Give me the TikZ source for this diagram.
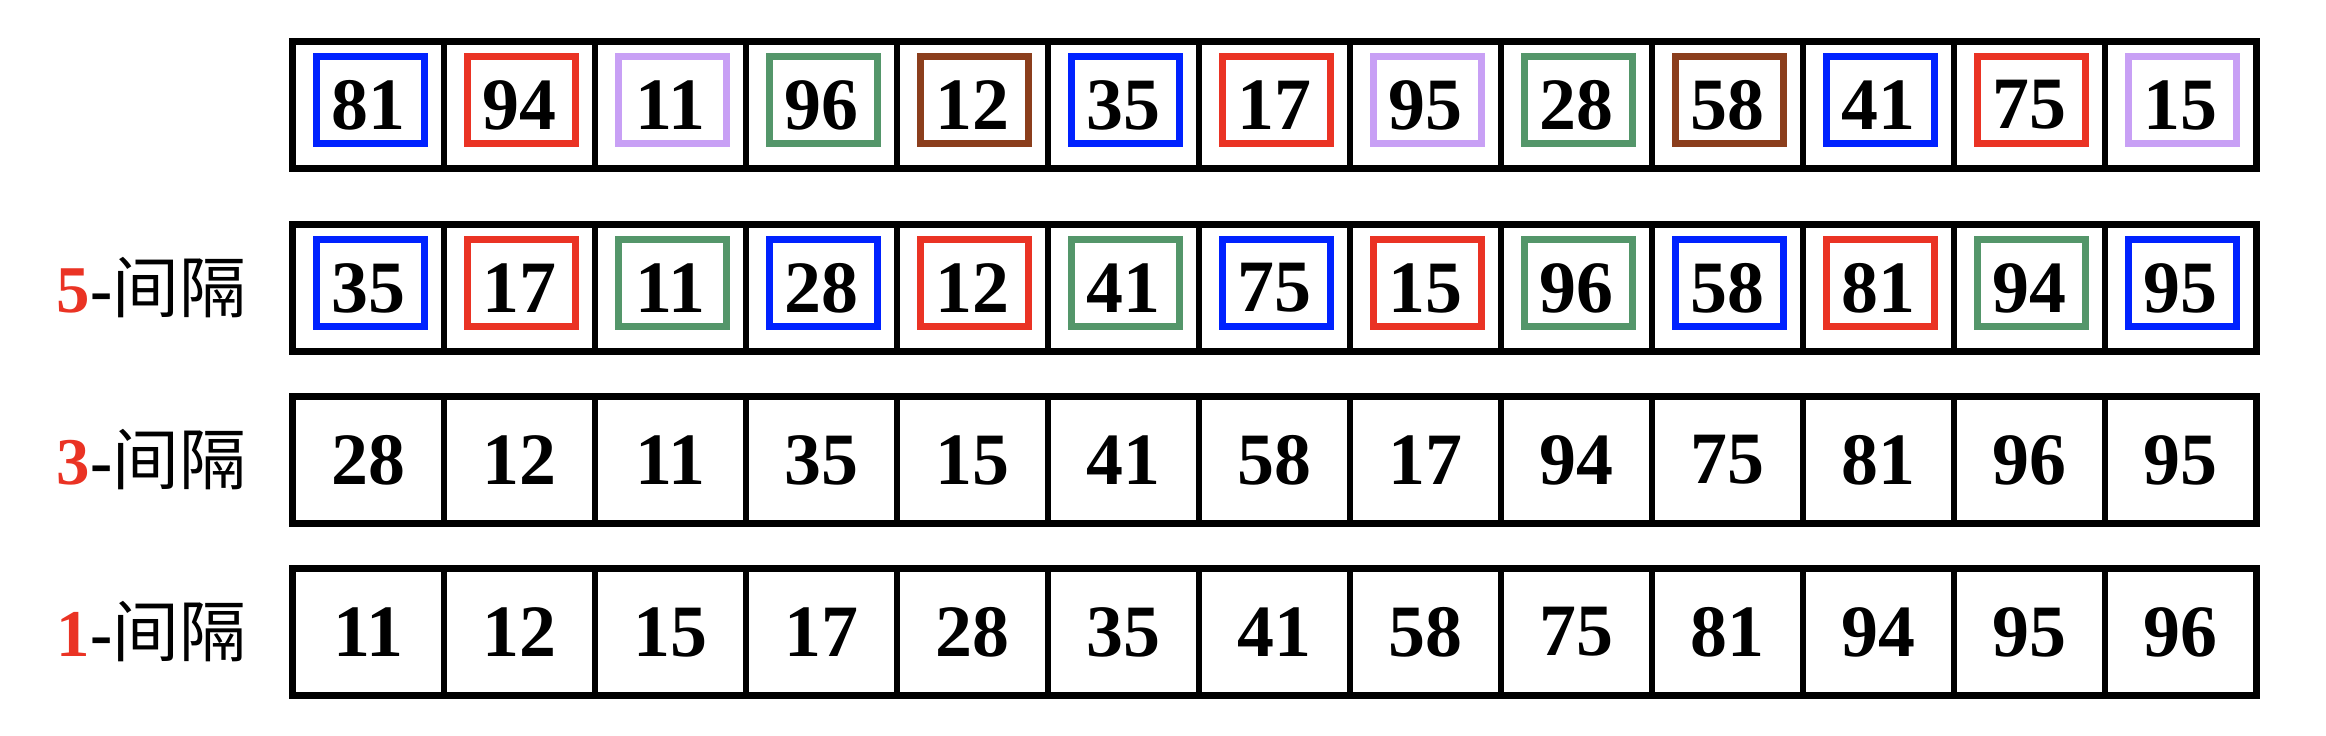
\documentclass[tikz,border=0pt]{standalone}
\usepackage{fontspec}
\setmainfont{Liberation Serif}
\newfontfamily\cjk{Noto Sans CJK SC}
\usepackage{tikz}
\usetikzlibrary{positioning}
\definecolor{gapBlue}{RGB}{0, 34, 255}
\definecolor{gapRed}{RGB}{234, 51, 36}
\definecolor{gapPurple}{RGB}{200, 160, 245}
\definecolor{gapGreen}{RGB}{84, 150, 106}
\definecolor{gapBrown}{RGB}{139, 62, 28}

\begin{document}
\begin{tikzpicture}[x=0.01cm, y=-0.01cm,
	cell/.style={draw, line width=1.5pt, outer sep=0pt, inner sep=0pt, minimum width=1.51cm, minimum height=1.26cm, font=\bfseries\fontsize{21}{21}\selectfont},
	groupbox/.style={draw=#1, line width=2pt, minimum width=1.08cm, minimum height=0.86cm, inner sep=0pt, xshift=0.02cm, yshift=0.05cm},
	gaplabel/.style={inner sep=0pt, font=\fontsize{19}{19}\selectfont}]
	\useasboundingbox (0, 0) rectangle (2326, 736);
	% original sequence, 5 groups
	\foreach \v/\c [count=\i] in {81/gapBlue, 94/gapRed, 11/gapPurple, 96/gapGreen, 12/gapBrown, 35/gapBlue, 17/gapRed, 95/gapPurple, 28/gapGreen, 58/gapBrown, 41/gapBlue, 75/gapRed, 15/gapPurple} {
		\node[cell] (a\i) at ({293 + 151*(\i - 0.5)}, 105) {};
		\node[groupbox=\c] (ag\i) at (a\i) {};
		\node[font=\bfseries\fontsize{21}{21}\selectfont] at (a\i) {\v};
	}
	% after 5-gap, 3 groups
	\foreach \v/\c [count=\i] in {35/gapBlue, 17/gapRed, 11/gapGreen, 28/gapBlue, 12/gapRed, 41/gapGreen, 75/gapBlue, 15/gapRed, 96/gapGreen, 58/gapBlue, 81/gapRed, 94/gapGreen, 95/gapBlue} {
		\node[cell] (b\i) at ({293 + 151*(\i - 0.5)}, 288) {};
		\node[groupbox=\c] (bg\i) at (b\i) {};
		\node[font=\bfseries\fontsize{21}{21}\selectfont] at (b\i) {\v};
	}
	% after 3-gap
	\foreach \v [count=\i] in {28, 12, 11, 35, 15, 41, 58, 17, 94, 75, 81, 96, 95}
		\node[cell] (c\i) at ({293 + 151*(\i - 0.5)}, 460) {\v};
	% after 1-gap
	\foreach \v [count=\i] in {11, 12, 15, 17, 28, 35, 41, 58, 75, 81, 94, 95, 96}
		\node[cell] (d\i) at ({293 + 151*(\i - 0.5)}, 632) {\v};
	% heavier outer frames
	\foreach \r in {a, b, c, d}
		\draw[line width=2pt] (\r1.north west) rectangle (\r13.south east);
	\node[gaplabel, left=0.46cm of b1] (gap5) {\textbf{\textcolor{gapRed}{5}-}{\cjk 间隔}};
	\node[gaplabel, left=0.46cm of c1] (gap3) {\textbf{\textcolor{gapRed}{3}-}{\cjk 间隔}};
	\node[gaplabel, left=0.46cm of d1] (gap1) {\textbf{\textcolor{gapRed}{1}-}{\cjk 间隔}};

\end{tikzpicture}
\end{document}
